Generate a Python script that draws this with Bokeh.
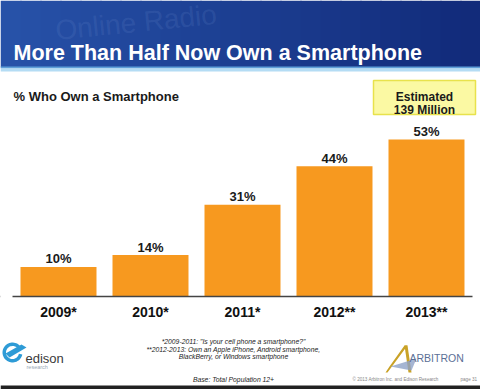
import numpy as np
from bokeh.plotting import figure
from bokeh.models import (FactorRange, Range1d, Label, BoxAnnotation, PolyAnnotation,
                          ColumnDataSource, Span)
from bokeh.transform import dodge
from bokeh.core.properties import value
from bokeh.embed import file_html
from bokeh.resources import INLINE

# ---- data ----
years = ["2009*", "2010*", "2011*", "2012**", "2013**"]
pct = [10, 14, 31, 44, 53]
pct_labels = ["10%", "14%", "31%", "44%", "53%"]

title = "More Than Half Now Own a Smartphone"
subtitle = "% Who Own a Smartphone"
callout = ["Estimated", "139 Million"]
footnotes = ['*2009-2011: "Is your cell phone a smartphone?"',
             '**2012-2013: Own an Apple iPhone, Android smartphone,',
             'BlackBerry, or Windows smartphone']
base_note = "Base: Total Population 12+"
copyright_note = "\u00a9 2013 Arbitron Inc. and Edison Research"
page_note = "page 31"

W, H = 480, 389
FONT = "Liberation Sans"

p = figure(width=W, height=H, output_backend="svg", toolbar_location=None,
           x_range=FactorRange(*years, range_padding=0.1087, range_padding_units="absolute"),
           y_range=Range1d(-31.42, 100.0),
           min_border=0, min_border_left=0, min_border_right=0,
           min_border_top=0, min_border_bottom=0)
p.axis.visible = False
p.grid.visible = False
p.outline_line_color = None
p.background_fill_color = "white"
p.border_fill_color = "white"

def sy(y):
    return H - y

def box(l, r, t, b, color, alpha=1.0, **kw):
    p.add_layout(BoxAnnotation(left=l, right=r, top=sy(t), bottom=sy(b),
                               left_units="screen", right_units="screen",
                               top_units="screen", bottom_units="screen",
                               fill_color=color, fill_alpha=alpha, **kw))

# ---- banner (left-to-right gradient) ----
c0 = np.array([0x27, 0x52, 0xa8]); c1 = np.array([0x12, 0x2b, 0x7a])
n = 24
for i in range(n):
    t = i / (n - 1)
    c = (c0 * (1 - t) + c1 * t).astype(int)
    box(i * W / n, (i + 1) * W / n + 1, 0, 67, "#%02x%02x%02x" % tuple(c), line_alpha=0, level="underlay")
box(0, W, 66, 68, "#5f9fd8", line_alpha=0, level="underlay")
box(0, W, 68, 71, "#b4dcf4", line_alpha=0, level="underlay")
p.add_layout(Label(x=55, y=sy(30), x_units="screen", y_units="screen", text="Online Radio",
                   text_font=FONT, text_font_size="28px", text_color="#6f8fd0",
                   text_alpha=0.18, angle=0.1, text_baseline="alphabetic", level="underlay"))
p.add_layout(Label(x=13, y=sy(52), x_units="screen", y_units="screen", text=title,
                   text_font=FONT, text_font_style="bold", text_font_size="21.5px",
                   text_color="white", text_baseline="alphabetic"))

# ---- subtitle ----
p.add_layout(Label(x=13, y=sy(96), x_units="screen", y_units="screen", text=subtitle,
                   text_font=FONT, text_font_style="bold", text_font_size="13px",
                   text_color="#1a1a1a", text_baseline="alphabetic"))

# ---- callout box ----
box(373, 475, 80, 114, "#fbf9a3", line_color="#e8e24c", line_width=1.5, line_alpha=1)
for t, yb in zip(callout, [96, 109]):
    p.add_layout(Label(x=424, y=sy(yb), x_units="screen", y_units="screen", text=t,
                       text_font=FONT, text_font_style="bold", text_font_size="12px",
                       text_color="#1a1a1a", text_align="center", text_baseline="alphabetic"))

# ---- bars ----
src = ColumnDataSource(dict(year=years, pct=pct, lab=pct_labels, zero=[0] * len(years)))
xd = dodge("year", 0.0217, range=p.x_range)
p.vbar(x=xd, top="pct", bottom=0, width=0.826, source=src,
       fill_color="#f7991f", line_color=None)
p.text(x=xd, y="pct", text="lab", source=src, y_offset=-8,
       text_font=value(FONT), text_font_style="bold", text_font_size="13px",
       text_color="#1a1a1a", text_align="center", text_baseline="alphabetic")
p.text(x=xd, y="zero", text="year", source=src, y_offset=16,
       text_font=value(FONT), text_font_style="bold", text_font_size="14px",
       text_color="#111111", text_align="center", text_baseline="alphabetic")

# baseline
p.add_layout(Span(location=0, dimension="width", line_color="#444444", line_width=1.5))
box(0, 12, 294, 298, "white", line_alpha=0)
box(472, W, 294, 298, "white", line_alpha=0)

# ---- footnotes ----
for t, yb in zip(footnotes, [341, 348.5, 356]):
    p.add_layout(Label(x=233, y=sy(yb), x_units="screen", y_units="screen", text=t,
                       text_font=FONT, text_font_style="italic", text_font_size="6.8px",
                       text_color="#222222", text_align="center", text_baseline="alphabetic"))
p.add_layout(Label(x=233, y=sy(379), x_units="screen", y_units="screen", text=base_note,
                   text_font=FONT, text_font_style="italic", text_font_size="6.8px",
                   text_color="#222222", text_align="center", text_baseline="alphabetic"))
p.add_layout(Label(x=352, y=sy(379), x_units="screen", y_units="screen", text=copyright_note,
                   text_font=FONT, text_font_size="4.6px",
                   text_color="#888888", text_baseline="alphabetic"))
p.add_layout(Label(x=460, y=sy(379), x_units="screen", y_units="screen", text=page_note,
                   text_font=FONT, text_font_size="4.6px",
                   text_color="#888888", text_baseline="alphabetic"))
box(0, W, 385, 389, "#222222", line_alpha=0)

# ---- edison logo ----
th = np.linspace(0.45, 2 * np.pi - 0.2, 48)
cx, cy, r1, r2 = 12, 352, 10, 6.5
xo = cx + r1 * np.cos(th); yo = cy - r1 * np.sin(th)
xi = cx + r2 * np.cos(th[::-1]); yi = cy - r2 * np.sin(th[::-1])
p.add_layout(PolyAnnotation(xs=list(np.r_[xo, xi]), ys=list(H - np.r_[yo, yi]),
                            xs_units="screen", ys_units="screen",
                            fill_color="#2e9bd6", fill_alpha=1, line_alpha=0))
p.add_layout(PolyAnnotation(xs=[5, 21, 26, 9], ys=list(H - np.array([353, 344, 347, 357])),
                            xs_units="screen", ys_units="screen",
                            fill_color="#2e9bd6", fill_alpha=1, line_alpha=0))
p.add_layout(Label(x=25, y=sy(358), x_units="screen", y_units="screen", text="edison",
                   text_font=FONT, text_font_size="13px", text_color="#3a3a3a",
                   text_baseline="alphabetic"))
p.add_layout(Label(x=26, y=sy(366), x_units="screen", y_units="screen", text="research",
                   text_font=FONT, text_font_size="5.5px", text_color="#9aaab8",
                   text_baseline="alphabetic"))

# ---- arbitron logo ----
p.add_layout(PolyAnnotation(xs=[382, 387, 407, 404, 389, 385], ys=list(H - np.array([372, 372, 345, 345, 366, 372])),
                            xs_units="screen", ys_units="screen",
                            fill_color="#c9a227", fill_alpha=1, line_alpha=0))
p.add_layout(PolyAnnotation(xs=[404, 407, 411, 408], ys=list(H - np.array([345, 345, 372, 372])),
                            xs_units="screen", ys_units="screen",
                            fill_color="#c9a227", fill_alpha=1, line_alpha=0))
p.add_layout(PolyAnnotation(xs=[390, 416, 411], ys=list(H - np.array([366, 358, 370])),
                            xs_units="screen", ys_units="screen",
                            fill_color="#8fa3c8", fill_alpha=0.8, line_alpha=0))
p.add_layout(Label(x=409, y=sy(357), x_units="screen", y_units="screen", text="ARBITRON",
                   text_font=FONT, text_font_size="10.5px", text_color="#5a6f96",
                   text_baseline="alphabetic"))

open("out.html", "w").write(file_html(p, INLINE))
